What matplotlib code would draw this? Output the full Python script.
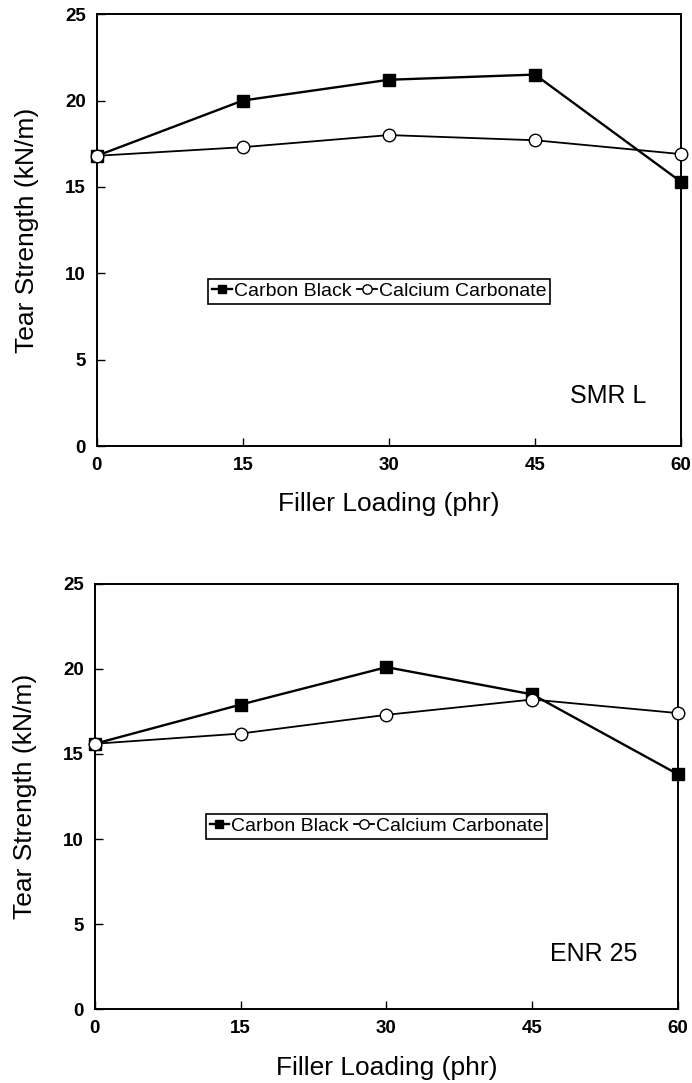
import numpy as np
import matplotlib
matplotlib.use('Agg')
import matplotlib.pyplot as plt

plt.rcParams['font.family'] = ['Liberation Sans', 'DejaVu Sans']

# filler loading (phr)
loading = [0, 15, 30, 45, 60]

# tear strength (kN/m), SMR L
smr_carbon_black = [16.8, 20.0, 21.2, 21.5, 15.3]
smr_calcium_carb = [16.8, 17.3, 18.0, 17.7, 16.9]

# tear strength (kN/m), ENR 25
enr_carbon_black = [15.6, 17.9, 20.1, 18.5, 13.8]
enr_calcium_carb = [15.6, 16.2, 17.3, 18.2, 17.4]

panels = [
	('SMR L', smr_carbon_black, smr_calcium_carb, [0.140, 0.588, 0.844, 0.399], (0.81, 0.116), (0.191, 0.358)),
	('ENR 25', enr_carbon_black, enr_calcium_carb, [0.137, 0.068, 0.843, 0.393], (0.78, 0.131), (0.19, 0.43)),
]

fig = plt.figure(figsize=(6.92, 10.83), dpi=100)

for (name, cb, cc, rect, txt_pos, leg_pos) in panels:
	ax = fig.add_axes(rect)
	ax.plot(loading, cb, '-s', color='black', lw=1.7, ms=8.5, mfc='black', mec='black',
		label='Carbon Black', clip_on=False, zorder=3)
	ax.plot(loading, cc, '-o', color='black', lw=1.3, ms=9, mfc='white', mec='black', mew=1.0,
		label='Calcium Carbonate', clip_on=False, zorder=3)

	ax.set_xlim(0, 60)
	ax.set_ylim(0, 25)
	ax.set_xticks(loading)
	ax.set_yticks([0, 5, 10, 15, 20, 25])
	ax.tick_params(direction='in', length=6, width=1, labelsize=13.5, pad=8)
	for lab in ax.get_xticklabels() + ax.get_yticklabels():
		lab.set_fontweight('bold')
	for s in ax.spines.values():
		s.set_linewidth(1.4)

	ax.set_xlabel('Filler Loading (phr)', fontsize=19, labelpad=13)
	ax.set_ylabel('Tear Strength (kN/m)', fontsize=19, labelpad=19)
	ax.text(txt_pos[0], txt_pos[1], name, transform=ax.transAxes, fontsize=18,
		ha='left', va='center')

	leg = ax.legend(loc='center left', bbox_to_anchor=leg_pos, ncol=2, fontsize=14,
		handlelength=1.0, handletextpad=0.1, columnspacing=0.3, borderpad=0.2,
		borderaxespad=0, fancybox=False, framealpha=1, edgecolor='black', markerscale=0.75)
	leg.get_frame().set_linewidth(1.2)

fig.savefig('out.png', dpi=100)
